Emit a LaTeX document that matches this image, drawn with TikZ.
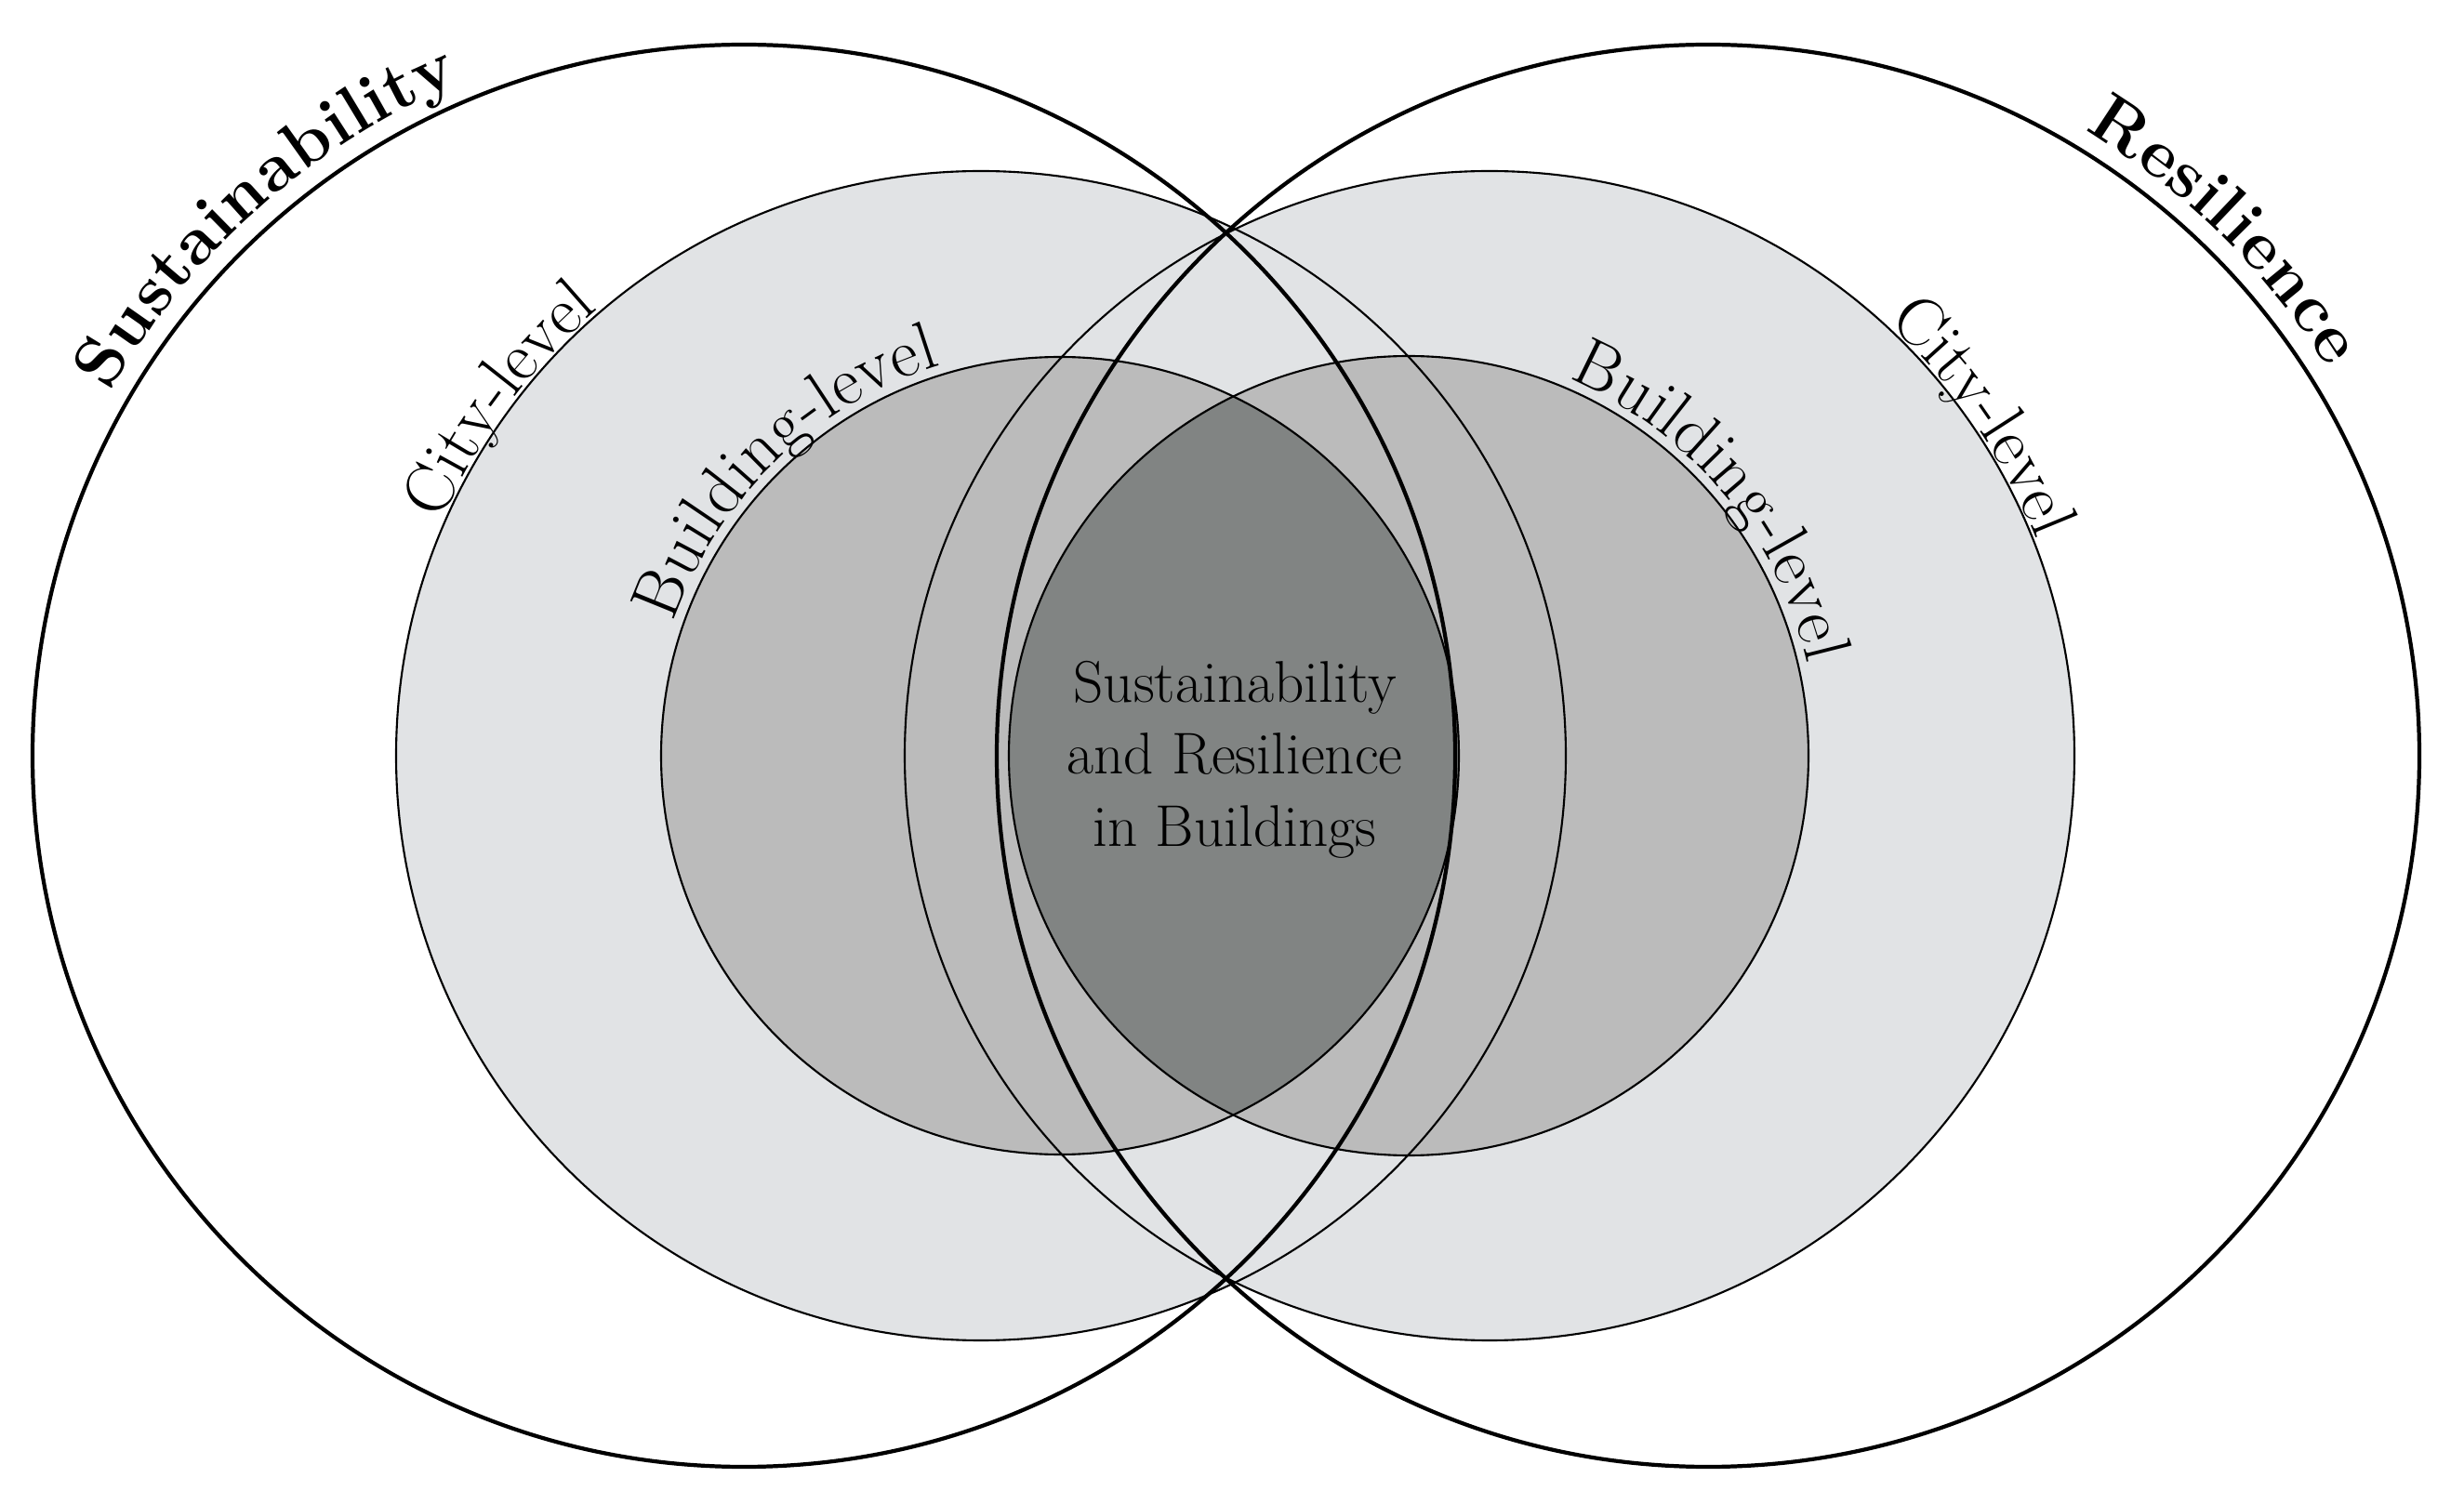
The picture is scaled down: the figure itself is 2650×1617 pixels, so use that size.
\documentclass[tikz,border=0pt]{standalone}
\usetikzlibrary{decorations.text}
\definecolor{cityc}{HTML}{E1E3E5}
\definecolor{bldc}{HTML}{BBBBBB}
\definecolor{corec}{HTML}{818483}
\begin{document}
\begin{tikzpicture}[x=0.01cm,y=0.01cm,
  thinline/.style={line width=0.6pt},
  thickline/.style={line width=1.2pt},
  arclabel/.style={decorate,decoration={text along path,text align=center,raise=#1}}]
\useasboundingbox (0,0) rectangle (2650,1617);
\def\cy{804}
% fills
\fill[cityc] (1055,\cy) circle (629);
\fill[cityc] (1602,\cy) circle (629);
\fill[bldc] (1140,\cy) circle (429);
\fill[bldc] (1515,\cy) circle (430);
\begin{scope}
\clip (1140,\cy) circle (429);
\fill[corec] (1515,\cy) circle (430);
\end{scope}
% outlines
\draw[thinline] (1055,\cy) circle (629);
\draw[thinline] (1602,\cy) circle (629);
\draw[thinline] (1140,\cy) circle (429);
\draw[thinline] (1515,\cy) circle (430);
\draw[thickline] (800,\cy) circle (765);
\draw[thickline] (1837,\cy) circle (765);
% labels
\path[arclabel=6pt,decoration={text={|\bfseries\fontsize{21}{25}\selectfont|Sustainability}}]
  (800,\cy) ++(152:765) arc (152:111:765);
\path[arclabel=6pt,decoration={text={|\bfseries\fontsize{21}{25}\selectfont|Resilience}}]
  (1837,\cy) ++(62:765) arc (62:29:765);
\path[arclabel=1pt,decoration={text={|\fontsize{21}{25}\selectfont|City-level}}]
  (1055,\cy) ++(163:629) arc (163:124:629);
\path[arclabel=1pt,decoration={text={|\fontsize{21}{25}\selectfont|City-level}}]
  (1602,\cy) ++(54:629) arc (54:15:629);
\path[arclabel=3pt,decoration={text={|\fontsize{21}{25}\selectfont|Building-level}}]
  (1140,\cy) ++(168:429) arc (168:100:429);
\path[arclabel=3pt,decoration={text={|\fontsize{21}{25}\selectfont|Building-level}}]
  (1515,\cy) ++(76:430) arc (76:4:430);
\node[align=center,font=\fontsize{18}{22}\selectfont] (core) at (1328,800)
  {Sustainability\\and Resilience\\in Buildings};
\end{tikzpicture}
\end{document}
